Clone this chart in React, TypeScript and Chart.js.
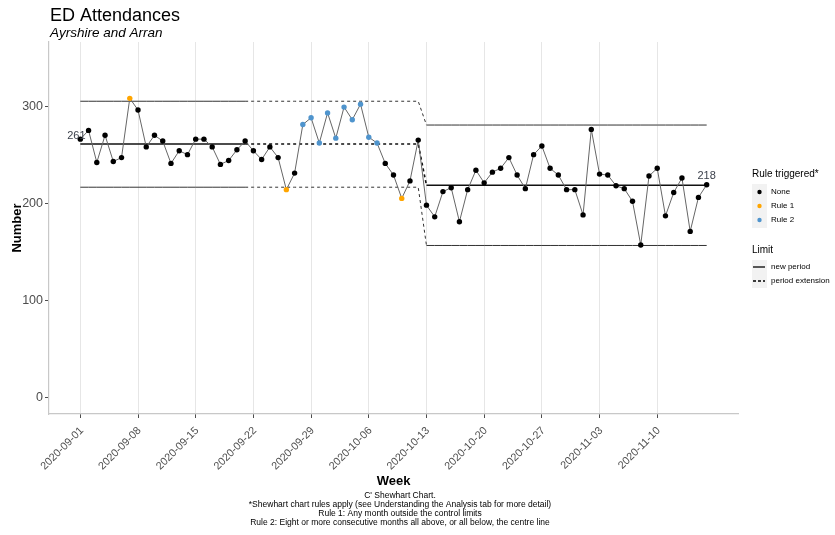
import React, { useEffect, useRef } from "react";
import { Chart, registerables } from "chart.js";

Chart.register(...registerables);

// Weekly tick labels (day offsets from 2020-09-01)
const tickLabels = ["2020-09-01", "2020-09-08", "2020-09-15", "2020-09-22", "2020-09-29", "2020-10-06", "2020-10-13", "2020-10-20", "2020-10-27", "2020-11-03", "2020-11-10"];
const tickDays = [0, 7, 14, 21, 28, 35, 42, 49, 56, 63, 70];
const yTicks = [0, 100, 200, 300];

// Daily attendances, 2020-09-01 .. 2020-11-16
const values = [
  266, 275, 242, 270, 243, 247, 308, 296, 258, 270, 264, 241, 254, 250, 266, 266, 258, 240, 244, 255, 264, 254,
  245, 258, 247, 214, 231, 281, 288, 262, 293, 267, 299, 286, 302, 268, 262, 241, 229, 205, 223, 265,
  198, 186, 212, 216, 181, 214, 234, 221, 232, 236, 247, 229, 215, 250, 259, 236, 229, 214, 214, 188, 276, 230,
  229, 218, 215, 202, 157, 228, 236, 187, 211, 226, 171, 206, 219,
];
// 0 = None, 1 = Rule 1, 2 = Rule 2
const rules = [
  0, 0, 0, 0, 0, 0, 1, 0, 0, 0, 0, 0, 0, 0, 0, 0, 0, 0, 0, 0, 0, 0,
  0, 0, 0, 1, 0, 2, 2, 2, 2, 2, 2, 2, 2, 2, 2, 0, 0, 1, 0, 0,
  0, 0, 0, 0, 0, 0, 0, 0, 0, 0, 0, 0, 0, 0, 0, 0, 0, 0, 0, 0, 0, 0,
  0, 0, 0, 0, 0, 0, 0, 0, 0, 0, 0, 0, 0,
];
// Period limits
const period1 = { centre: 261, upper: 305, lower: 216.5, from: 0, solidTo: 20, to: 41 };
const period2 = { centre: 218.5, upper: 280.5, lower: 156.5, from: 42, to: 76 };

const ruleNames = ["None", "Rule 1", "Rule 2"];
const ruleColors = ["#000000", "#FFA500", "#4F94CD"];

function limitSeries(key: "centre" | "upper" | "lower") {
  return values.map((_, i) => ({ x: i, y: i <= period1.to ? period1[key] : period2[key] }));
}

const dashSeg = {
  borderDash: (ctx: any) => (ctx.p0DataIndex >= period1.solidTo && ctx.p0DataIndex < period2.from ? [3, 3] : undefined),
};

const FONT = "Liberation Sans, Arial, sans-serif";

const decorPlugin = {
  id: "decor",
  afterDraw(chart: any) {
    const ctx = chart.ctx;
    const area = chart.chartArea;
    const xs = chart.scales.x;
    const ys = chart.scales.y;
    ctx.save();
    ctx.fillStyle = "#000";
    ctx.textBaseline = "alphabetic";
    ctx.textAlign = "left";
    ctx.font = `18px ${FONT}`;
    ctx.fillText("ED Attendances", 50, 21);
    ctx.font = `italic 13.5px ${FONT}`;
    ctx.fillText("Ayrshire and Arran", 50, 37);

    // x tick labels (rotated 45°)
    ctx.fillStyle = "#4D4D4D";
    ctx.font = `10.8px ${FONT}`;
    ctx.textAlign = "right";
    ctx.textBaseline = "middle";
    tickDays.forEach((d, i) => {
      const x = xs.getPixelForValue(d);
      ctx.save();
      ctx.translate(x + 1.5, area.bottom + 15);
      ctx.rotate(-Math.PI / 4);
      ctx.fillText(tickLabels[i], 0, 0);
      ctx.restore();
    });

    // axis titles
    ctx.fillStyle = "#000";
    ctx.font = `bold 13px ${FONT}`;
    ctx.textAlign = "center";
    ctx.textBaseline = "middle";
    ctx.fillText("Week", (area.left + area.right) / 2, 481);
    ctx.save();
    ctx.translate(17, (area.top + area.bottom) / 2);
    ctx.rotate(-Math.PI / 2);
    ctx.fillText("Number", 0, 0);
    ctx.restore();

    // caption
    ctx.font = `8.5px ${FONT}`;
    const cap = [
      "C' Shewhart Chart.",
      "*Shewhart chart rules apply (see Understanding the Analysis tab for more detail)",
      "Rule 1: Any month outside the control limits",
      "Rule 2: Eight or more consecutive months all above, or all below, the centre line",
    ];
    cap.forEach((t, i) => ctx.fillText(t, 400, 496 + i * 9));

    // centre labels
    ctx.fillStyle = "#3A3F4A";
    ctx.font = `11px ${FONT}`;
    ctx.fillText(String(Math.round(period1.centre)), xs.getPixelForValue(0) - 4, ys.getPixelForValue(period1.centre) - 8);
    ctx.fillText(String(Math.floor(period2.centre)), xs.getPixelForValue(76), ys.getPixelForValue(period2.centre) - 9);

    // legend
    const lx = 752;
    ctx.textAlign = "left";
    ctx.fillStyle = "#000";
    ctx.font = `10px ${FONT}`;
    ctx.fillText("Rule triggered*", lx, 174);
    ctx.fillStyle = "#F2F2F2";
    ctx.fillRect(lx, 184, 15, 44);
    ruleNames.forEach((n, i) => {
      const y = 192 + i * 14;
      ctx.fillStyle = ruleColors[i];
      ctx.beginPath();
      ctx.arc(lx + 7.5, y, 2.2, 0, Math.PI * 2);
      ctx.fill();
      ctx.fillStyle = "#000";
      ctx.font = `8px ${FONT}`;
      ctx.fillText(n, lx + 19, y);
    });
    ctx.font = `10px ${FONT}`;
    ctx.fillText("Limit", lx, 250);
    ctx.fillStyle = "#F2F2F2";
    ctx.fillRect(lx, 260, 15, 28);
    ctx.strokeStyle = "#000";
    ctx.lineWidth = 1.3;
    ctx.beginPath();
    ctx.moveTo(lx + 1, 267);
    ctx.lineTo(lx + 13, 267);
    ctx.stroke();
    ctx.setLineDash([3, 2]);
    ctx.beginPath();
    ctx.moveTo(lx + 1, 281);
    ctx.lineTo(lx + 13, 281);
    ctx.stroke();
    ctx.setLineDash([]);
    ctx.fillStyle = "#000";
    ctx.font = `8px ${FONT}`;
    ctx.fillText("new period", lx + 19, 267);
    ctx.fillText("period extension", lx + 19, 281);
    ctx.restore();
  },
};

export default function App() {
  const ref = useRef<HTMLCanvasElement | null>(null);
  useEffect(() => {
    if (!ref.current) return;
    const chart = new Chart(ref.current, {
      type: "line",
      data: {
        datasets: [
          {
            label: "values",
            data: values.map((v, i) => ({ x: i, y: v })),
            borderColor: "#666666",
            borderWidth: 1,
            pointRadius: 2.7,
            pointBorderWidth: 0,
            pointBackgroundColor: rules.map((r) => ruleColors[r]),
            pointBorderColor: rules.map((r) => ruleColors[r]),
            order: 0,
          },
          {
            label: "centre",
            data: limitSeries("centre"),
            borderColor: "#111",
            borderWidth: 1.6,
            pointRadius: 0,
            segment: dashSeg as any,
            order: 1,
          },
          {
            label: "upper",
            data: limitSeries("upper"),
            borderColor: "#333",
            borderWidth: 1,
            pointRadius: 0,
            segment: dashSeg as any,
            order: 1,
          },
          {
            label: "lower",
            data: limitSeries("lower"),
            borderColor: "#333",
            borderWidth: 1,
            pointRadius: 0,
            segment: dashSeg as any,
            order: 1,
          },
        ],
      },
      options: {
        animation: false,
        responsive: true,
        maintainAspectRatio: false,
        layout: { padding: { top: 42, right: 97, left: 0, bottom: 0 } },
        plugins: { legend: { display: false }, tooltip: { enabled: false }, title: { display: false } },
        scales: {
          x: {
            type: "linear",
            min: -3.8,
            max: 79.8,
            afterFit: (s: any) => {
              s.height = 121;
            },
            afterBuildTicks: (s: any) => {
              s.ticks = tickDays.map((v) => ({ value: v }));
            },
            ticks: { display: false, autoSkip: false },
            grid: { color: "#E6E6E6", lineWidth: 1, tickLength: 4, tickColor: "#4D4D4D" },
            border: { display: true, color: "#C8C8C8", width: 1.2 },
          },
          y: {
            min: -17,
            max: 366,
            afterFit: (s: any) => {
              s.width = 49;
            },
            afterBuildTicks: (s: any) => {
              s.ticks = yTicks.map((v) => ({ value: v }));
            },
            ticks: { color: "#4D4D4D", font: { family: FONT, size: 12.5 }, padding: 2 },
            grid: { drawOnChartArea: false, tickLength: 4, tickColor: "#4D4D4D" },
            border: { display: true, color: "#C8C8C8", width: 1.2 },
          },
        },
      },
      plugins: [decorPlugin],
    });
    return () => chart.destroy();
  }, []);
  return (
    <div style={{ position: "fixed", left: 0, top: 0, width: 835, height: 535, background: "#fff" }}>
      <canvas ref={ref} />
    </div>
  );
}
